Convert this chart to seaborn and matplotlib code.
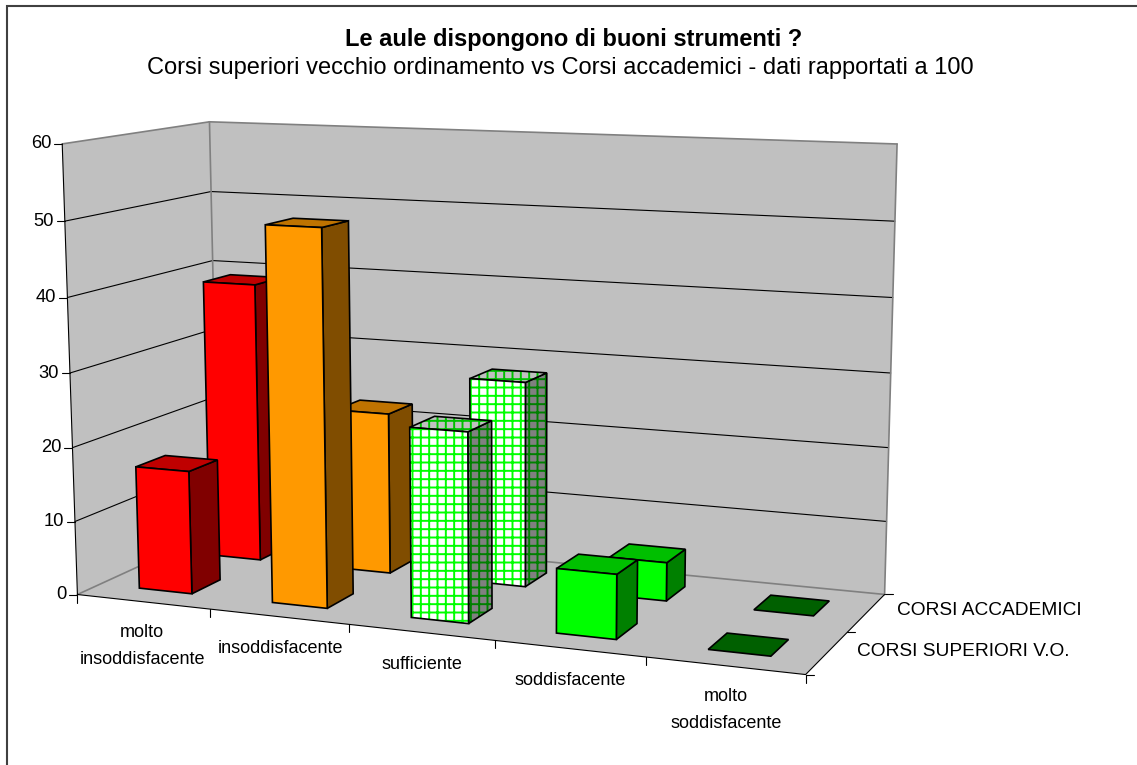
"""
Le aule dispongono di buoni strumenti ? - barre 3D in stile Excel.
Proiezione prospettica calcolata da pochi punti noti del box.
"""
import numpy as np
import matplotlib
matplotlib.use('Agg')
import matplotlib.pyplot as plt
from matplotlib.patches import Polygon
import seaborn as sns

CATEGORIES = ["molto\ninsoddisfacente", "insoddisfacente", "sufficiente", "soddisfacente", "molto\nsoddisfacente"]
SERIES = ["CORSI SUPERIORI V.O.", "CORSI ACCADEMICI"]
VO_VALUES = [16.7, 50.0, 25.0, 8.4, 0.0]
ACC_VALUES = [39.0, 22.3, 28.0, 5.2, 0.0]
Y_TICKS = [0, 10, 20, 30, 40, 50, 60]
TITLE = "Le aule dispongono di buoni strumenti ?"
SUBTITLE = "Corsi superiori vecchio ordinamento vs Corsi accademici - dati rapportati a 100"

sns.set_theme(style='white')
plt.rcParams['font.family'] = ['Liberation Sans', 'DejaVu Sans']
plt.rcParams['hatch.linewidth'] = 1.4
palette = sns.color_palette(['#FF0000', '#FF9900', '#00FF00', '#00FF00', '#00FF00'])
WALL = '#C0C0C0'
GREY = '#808080'
TXT = '#000000'

NX, NY, ZMAX = len(CATEGORIES), len(SERIES), max(Y_TICKS)

# angoli del box: (categoria, serie, valore) -> pixel
anchors = [((0, 0, 0), (76.3, 594.3)), ((0, 0, ZMAX), (63.3, 144.0)),
           ((0, NY, 0), (220.0, 530.0)), ((0, NY, ZMAX), (208.3, 121.7)),
           ((NX, 0, 0), (805.7, 674.7)), ((NX, NY, 0), (884.3, 594.3)),
           ((NX, NY, ZMAX), (897.3, 144.0))]
A, b = [], []
for (x, y, z), (u, v) in anchors:
    A.append([x, y, z, 1, 0, 0, 0, 0, -u*x, -u*y, -u*z]); b.append(u)
    A.append([0, 0, 0, 0, x, y, z, 1, -v*x, -v*y, -v*z]); b.append(v)
P = np.append(np.linalg.lstsq(np.array(A, float), np.array(b), rcond=None)[0], 1).reshape(3, 4)


def project(x, y, z):
    u, v, w = P @ np.array([x, y, z, 1.0])
    return u/w, v/w


def shade(color, k):
    return tuple(c*k for c in color)


fig, ax = plt.subplots(figsize=(11.37, 7.65), dpi=100)
fig.subplots_adjust(0, 0, 1, 1)
ax.set_xlim(0, 1137); ax.set_ylim(765, 0); ax.axis('off')


def face(pts, fc, zorder=5, **kw):
    ax.add_patch(Polygon([project(*p) for p in pts], closed=True, facecolor=fc, zorder=zorder, **kw))


def seg(p0, p1, color='black', lw=0.8):
    a, c = project(*p0), project(*p1)
    ax.plot([a[0], c[0]], [a[1], c[1]], color=color, lw=lw, solid_capstyle='round', zorder=2)


# pareti e pavimento
for pts in ([(0, 0, 0), (0, NY, 0), (0, NY, ZMAX), (0, 0, ZMAX)],
            [(0, NY, 0), (NX, NY, 0), (NX, NY, ZMAX), (0, NY, ZMAX)],
            [(0, 0, 0), (NX, 0, 0), (NX, NY, 0), (0, NY, 0)]):
    face(pts, WALL, zorder=1, edgecolor='none')
for t in Y_TICKS[1:-1]:
    seg((0, 0, t), (0, NY, t)); seg((0, NY, t), (NX, NY, t))
for p0, p1 in [((0, 0, ZMAX), (0, NY, ZMAX)), ((0, NY, ZMAX), (NX, NY, ZMAX)),
               ((0, NY, 0), (0, NY, ZMAX)), ((NX, NY, 0), (NX, NY, ZMAX)),
               ((0, 0, 0), (0, NY, 0)), ((0, NY, 0), (NX, NY, 0))]:
    seg(p0, p1, color=GREY, lw=1.2)

# assi e tacche
seg((0, 0, 0), (0, 0, ZMAX)); seg((0, 0, 0), (NX, 0, 0)); seg((NX, 0, 0), (NX, NY, 0))
for t in Y_TICKS:
    u, v = project(0, 0, t)
    ax.plot([u-8, u], [v, v], color='black', lw=0.8)
    ax.text(u-11, v, str(t), ha='right', va='center', fontsize=13.2, color=TXT)
for i in range(NX+1):
    u, v = project(i, 0, 0)
    ax.plot([u, u], [v, v+8], color='black', lw=0.8)
for j in range(NY+1):
    u, v = project(NX, j, 0)
    ax.plot([u, u+8], [v, v], color='black', lw=0.8)

for i, c in enumerate(CATEGORIES):
    u, v = project(i+0.5, 0, 0)
    ax.text(u+1-2*(i == 0), v+(44 if '\n' in c else 32), c, ha='center', va='center', multialignment='center',
            fontsize=13, linespacing=1.8, color=TXT)
ax.text(856.7, 651, SERIES[0], ha='left', va='center', fontsize=13.8, color=TXT)
ax.text(896.7, 610.7, SERIES[1], ha='left', va='center', fontsize=13.8, color=TXT)


def draw_bar(i, j, val):
    x0, x1, y0, y1 = i+0.3, i+0.7, j+0.3, j+0.7
    front = [(x0, y0, 0), (x1, y0, 0), (x1, y0, val), (x0, y0, val)]
    side = [(x1, y0, 0), (x1, y1, 0), (x1, y1, val), (x1, y0, val)]
    top = [(x0, y0, val), (x1, y0, val), (x1, y1, val), (x0, y1, val)]
    base = palette[i]
    if i == 2:
        # sufficiente: retino verde su bianco
        for pts, fc, hc in ((side, GREY, '#008000'), (top, WALL, '#00C000'), (front, 'white', '#00FF00')):
            face(pts, fc, edgecolor=hc, hatch='++', linewidth=0)
            face(pts, 'none', edgecolor='black', linewidth=1.2)
    elif i == 4:
        face(top, '#006000', edgecolor='black', linewidth=1.2)
    else:
        face(side, shade(base, 0.5), edgecolor='black', linewidth=1.2)
        face(top, shade(base, 0.75), edgecolor='black', linewidth=1.2)
        face(front, base, edgecolor='black', linewidth=1.2)


for j, vals in ((1, ACC_VALUES), (0, VO_VALUES)):
    for i, val in enumerate(vals):
        draw_bar(i, j, val)

# titolo e cornice (visibili solo sinistra e alto)
ax.text(574, 39, TITLE, ha='center', va='center', fontsize=17, fontweight='bold', color=TXT)
ax.text(560, 68, SUBTITLE, ha='center', va='center', fontsize=17, color=TXT)
ax.plot([6.7, 6.7, 1137], [765, 5.7, 5.7], color='#404040', lw=1.5, solid_joinstyle='miter')

plt.savefig('out.png', dpi=100)
